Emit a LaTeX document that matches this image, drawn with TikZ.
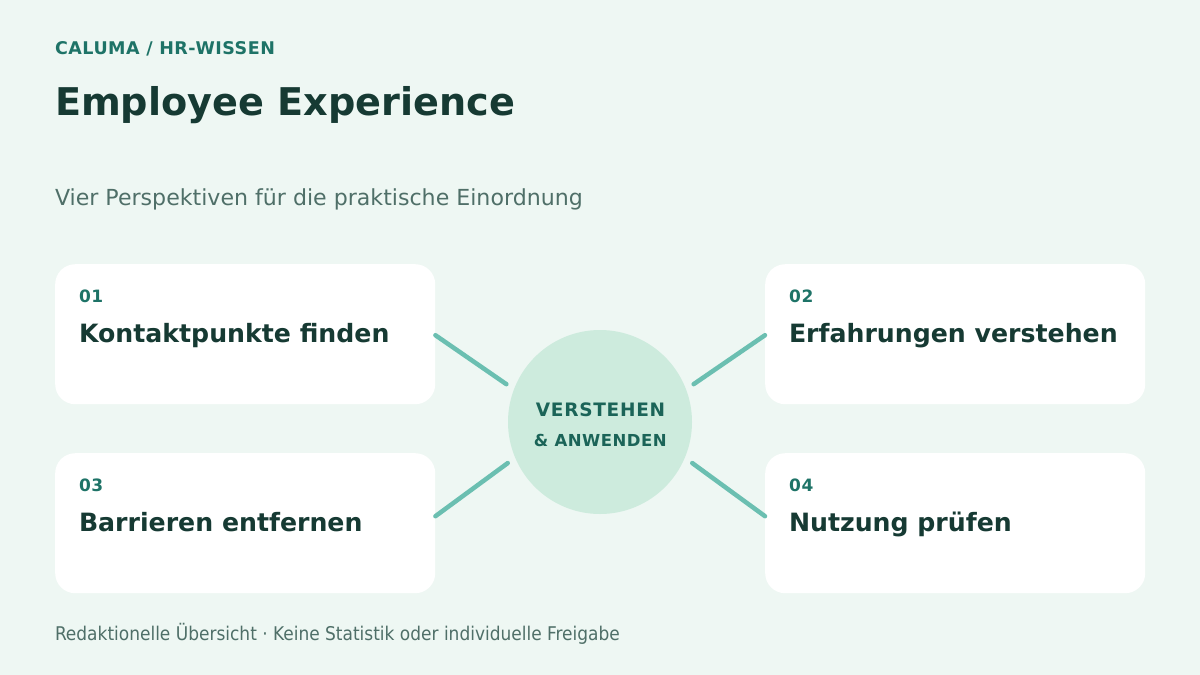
\documentclass[tikz,border=0pt]{standalone}
\usepackage{fontspec}
\setmainfont{DejaVu Sans}
\newfontfamily\condfont{DejaVu Sans Condensed}
\definecolor{bgc}{HTML}{EEF7F3}
\definecolor{tealc}{HTML}{1E7367}
\definecolor{darkc}{HTML}{163A33}
\definecolor{subc}{HTML}{4F6F68}
\definecolor{hubc}{HTML}{CDEBDD}
\definecolor{linec}{HTML}{6BBFB1}
\definecolor{hubtxt}{HTML}{1B6458}
\begin{document}
\begin{tikzpicture}[x=1pt,y=-1pt,
  card/.style={fill=white,draw=none,rounded corners=20pt,minimum width=380pt,minimum height=140pt,inner sep=0pt,anchor=north west},
  txt/.style={anchor=base west,inner sep=0pt,outer sep=0pt},
  num/.style={txt,text=tealc,font=\bfseries\fontsize{17}{19}\selectfont\addfontfeature{LetterSpace=4}},
  ctitle/.style={txt,text=darkc,font=\bfseries\fontsize{25.2}{28}\selectfont},
  spoke/.style={draw=linec,line width=4.5pt,line cap=round}]
\fill[bgc] (0,0) rectangle (1200,675);
\useasboundingbox (0,0) rectangle (1200,675);
\node[txt,text=tealc,font=\bfseries\fontsize{17.5}{20}\selectfont\addfontfeature{LetterSpace=3}] (kicker) at (55,54) {CALUMA / HR-WISSEN};
\node[txt,text=darkc,font=\bfseries\fontsize{38.2}{44}\selectfont] (title) at (55,115) {Employee Experience};
\node[txt,text=subc,font=\fontsize{22.1}{26}\selectfont] (sub) at (55,205) {Vier Perspektiven für die praktische Einordnung};
\node[card] (c1) at (55,264) {};
\node[card] (c2) at (765,264) {};
\node[card] (c3) at (55,453) {};
\node[card] (c4) at (765,453) {};
\node[num] (n1) at (79,302) {01};
\node[ctitle] (t1) at (79,342) {Kontaktpunkte finden};
\node[num] (n2) at (789,302) {02};
\node[ctitle] (t2) at (789,342) {Erfahrungen verstehen};
\node[num] (n3) at (79,491) {03};
\node[ctitle] (t3) at (79,531) {Barrieren entfernen};
\node[num] (n4) at (789,491) {04};
\node[ctitle] (t4) at (789,531) {Nutzung prüfen};
\node[circle,fill=hubc,minimum size=184pt,inner sep=0pt,outer sep=9pt] (hub) at (600,422) {};
\node[anchor=base,inner sep=0pt,text=hubtxt,font=\bfseries\fontsize{18.5}{20}\selectfont\addfontfeature{LetterSpace=4}] (h1) at (600.5,416) {VERSTEHEN};
\node[anchor=base,inner sep=0pt,text=hubtxt,font=\bfseries\fontsize{16.5}{18}\selectfont\addfontfeature{LetterSpace=3}] (h2) at (600.3,446) {\& ANWENDEN};
\draw[spoke] ([yshift=-1pt]c1.east) -- (hub.158);
\draw[spoke] ([yshift=-1pt]c2.west) -- (hub.22);
\draw[spoke] ([yshift=7pt]c3.east) -- (hub.204);
\draw[spoke] ([yshift=7pt]c4.west) -- (hub.336);
\node[txt,text=subc,font=\condfont\fontsize{18.9}{22}\selectfont] (foot) at (55,640) {Redaktionelle Übersicht · Keine Statistik oder individuelle Freigabe};
\end{tikzpicture}
\end{document}
